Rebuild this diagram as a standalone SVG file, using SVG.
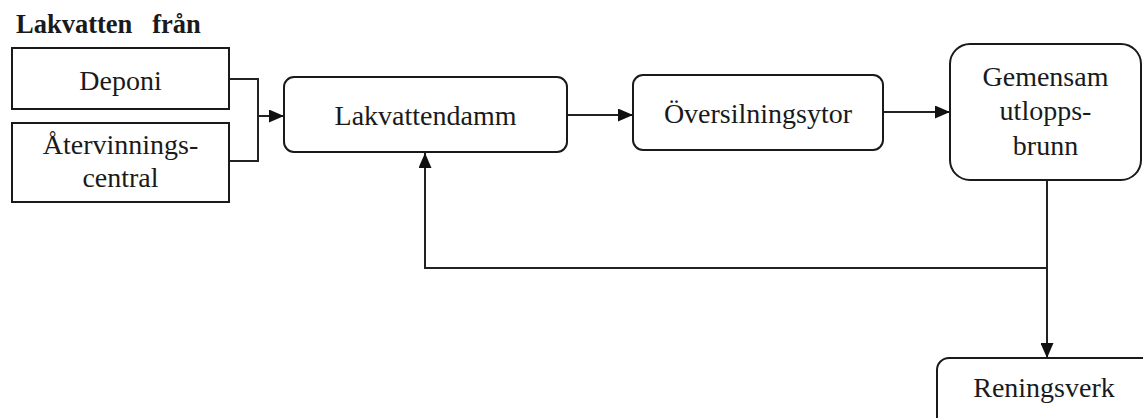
<svg xmlns="http://www.w3.org/2000/svg" width="1143" height="418" viewBox="0 0 1143 418">
  <style>
    .box { fill: #ffffff; stroke: #1a1a1a; stroke-width: 2; }
    .lbl { font-family: "Liberation Serif", "Times New Roman", serif; font-size: 28px; fill: #1a1a1a; text-anchor: middle; }
    .title { font-family: "Liberation Serif", "Times New Roman", serif; font-size: 26.5px; font-weight: bold; fill: #1a1a1a; white-space: pre; }
    .conn { fill: none; stroke: #222222; stroke-width: 2; }
  </style>
  <defs>
    <marker id="arrow" markerUnits="userSpaceOnUse" markerWidth="15" markerHeight="13" refX="15" refY="6.5" orient="auto">
      <path d="M0,0 L15,6.5 L0,13 Z" fill="#111111"/>
    </marker>
  </defs>
  <rect width="1143" height="418" fill="#ffffff"/>

  <text class="title" x="16" y="33" xml:space="preserve">Lakvatten   från</text>

  <g id="connectors">
    <path class="conn" d="M229,79 H258 V161 H229"/>
    <path class="conn" d="M258,116 H284" marker-end="url(#arrow)"/>
    <path class="conn" d="M567,115 H633" marker-end="url(#arrow)"/>
    <path class="conn" d="M883,112 H950" marker-end="url(#arrow)"/>
    <path class="conn" d="M1047,180 V358" marker-end="url(#arrow)"/>
    <path class="conn" d="M1047,268 H425 V153" marker-end="url(#arrow)"/>
  </g>

  <g id="deponi">
    <rect class="box" x="12" y="48" width="217" height="61"/>
    <text class="lbl" x="120.5" y="90">Deponi</text>
  </g>
  <g id="atervinningscentral">
    <rect class="box" x="12" y="123" width="217" height="79"/>
    <text class="lbl" x="120.5" y="154">Återvinnings-</text>
    <text class="lbl" x="120.5" y="187">central</text>
  </g>
  <g id="lakvattendamm">
    <rect class="box" x="284" y="77" width="283" height="75" rx="10" ry="10"/>
    <text class="lbl" x="425.5" y="125">Lakvattendamm</text>
  </g>
  <g id="oversilningsytor">
    <rect class="box" x="633" y="75" width="250" height="75" rx="10" ry="10"/>
    <text class="lbl" x="758" y="123">Översilningsytor</text>
  </g>
  <g id="gemensam">
    <rect class="box" x="950" y="44" width="191" height="136" rx="20" ry="20"/>
    <text class="lbl" x="1045.5" y="86">Gemensam</text>
    <text class="lbl" x="1045.5" y="120">utlopps-</text>
    <text class="lbl" x="1045.5" y="155">brunn</text>
  </g>
  <g id="reningsverk">
    <rect class="box" x="937" y="358" width="230" height="80" rx="12" ry="12"/>
    <text class="lbl" x="1044" y="397">Reningsverk</text>
  </g>
</svg>
